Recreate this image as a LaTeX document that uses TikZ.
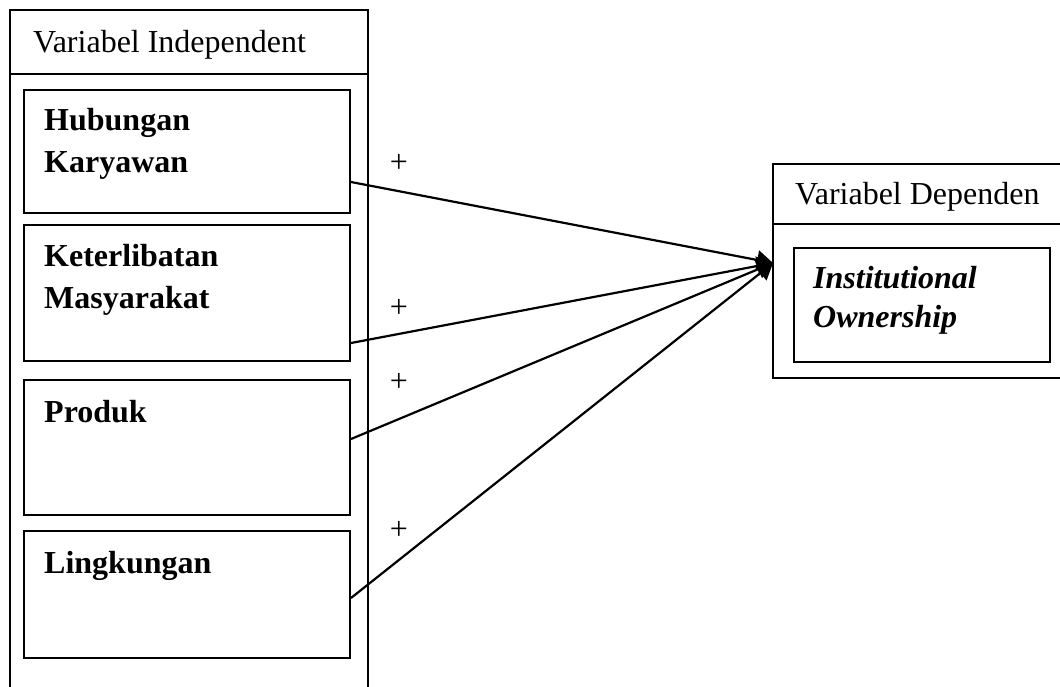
\documentclass[tikz,border=0pt]{standalone}
\usepackage{fontspec}
\setmainfont{Liberation Serif}
\usetikzlibrary{arrows.meta}
\begin{document}
\begin{tikzpicture}[x=1pt,y=-1pt,
  txt/.style={inner sep=0pt, anchor=base west, font=\fontsize{32}{42}\selectfont},
  btxt/.style={txt, font=\fontsize{32}{42}\selectfont\bfseries, align=left},
  ibox/.style={draw, line width=2pt, inner sep=0pt, anchor=north west},
  obox/.style={line width=1.6pt},
  conn/.style={line width=2.2pt, -{Triangle[length=16pt,width=19pt]}},
  plus/.style={inner sep=0pt, font=\fontsize{32}{42}\selectfont}]
\clip (0,0) rectangle (1060,686);
\useasboundingbox (0,0) rectangle (1060,686);
% outer left box
\draw[obox] (10,700) -- (10,10) -- (368,10) -- (368,700);
\draw[obox] (10,74) -- (368,74);
\node[txt] (indep) at (33,52) {Variabel Independent};
% inner boxes
\node[ibox, minimum width=326pt, minimum height=123pt] (hk) at (23,89) {};
\node[ibox, minimum width=326pt, minimum height=136pt] (km) at (23,224) {};
\node[ibox, minimum width=326pt, minimum height=135pt] (pr) at (23,379) {};
\node[ibox, minimum width=326pt, minimum height=127pt] (lk) at (23,530) {};
\node[btxt] (t1) at (44,172) {Hubungan\\Karyawan};
\node[btxt] (t2) at (44,308) {Keterlibatan\\Masyarakat};
\node[btxt] (t3) at (44,422) {Produk};
\node[btxt] (t4) at (44,573) {Lingkungan};
% right box
\draw[obox] (1065,164) -- (773,164) -- (773,378) -- (1065,378);
\draw[obox] (773,224) -- (1065,224);
\node[txt] (dep) at (795,204) {Variabel Dependen};
\node[ibox, minimum width=256pt, minimum height=114pt] (io) at (793,247) {};
\node[btxt, font=\fontsize{32}{39}\selectfont\bfseries\itshape] (t5) at (813,327) {Institutional\\Ownership};
% connectors
\coordinate (tip) at (773,263);
\draw[conn] ([yshift=32pt]hk.south east) -- (tip);
\draw[conn] ([yshift=19pt]km.south east) -- (tip);
\draw[conn] ([yshift=77pt]pr.south east) -- (tip);
\draw[conn] ([yshift=61pt]lk.south east) -- (tip);
\node[plus] (p1) at (399,163) {+};
\node[plus] (p2) at (399,308) {+};
\node[plus] (p3) at (399,382) {+};
\node[plus] (p4) at (399,530) {+};
\end{tikzpicture}
\end{document}
